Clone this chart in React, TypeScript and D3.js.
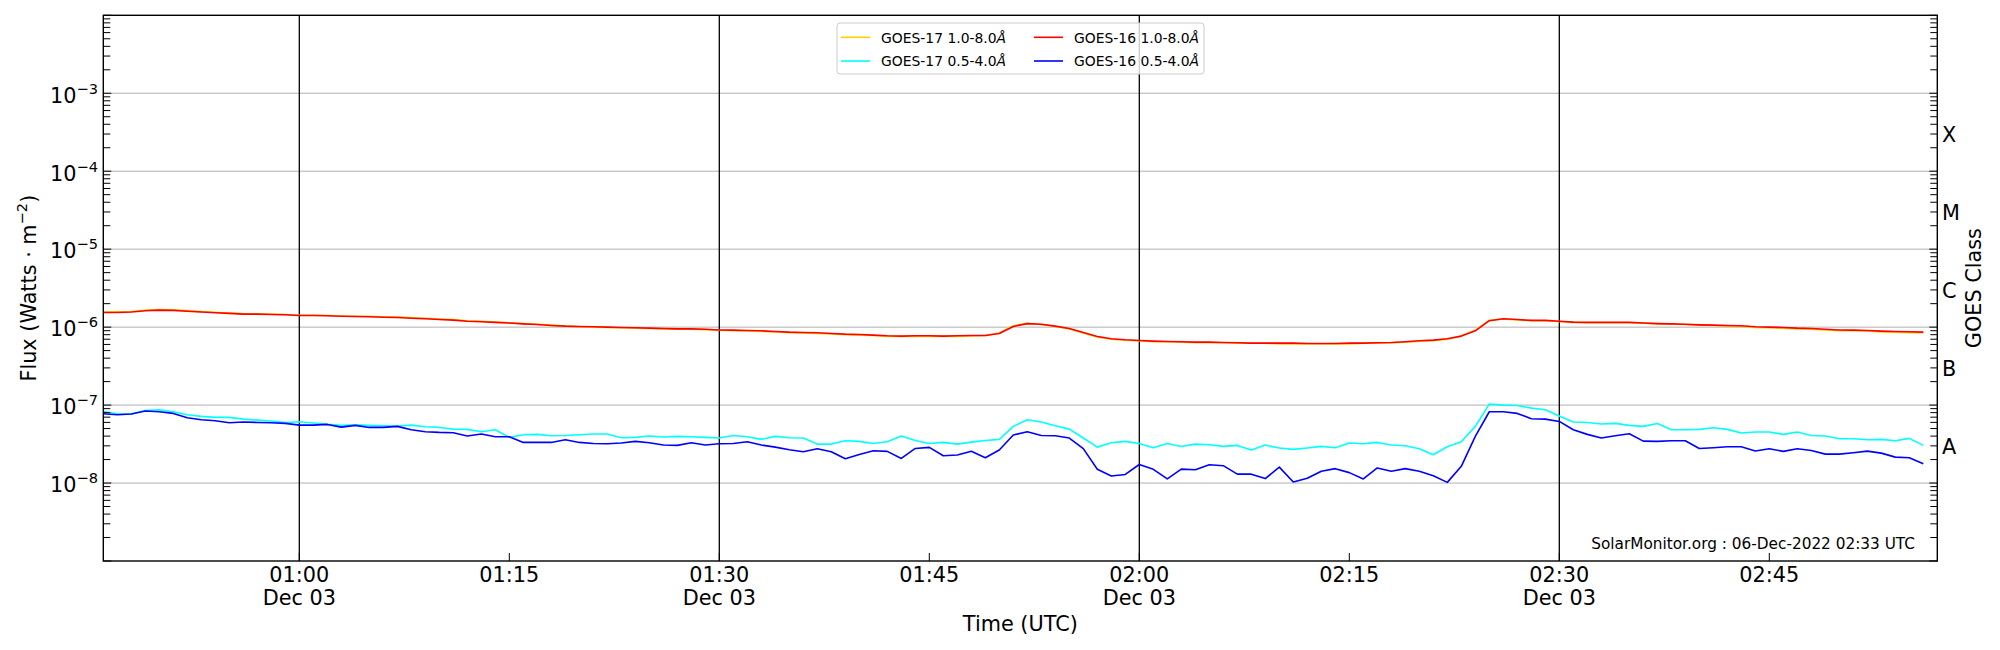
import React from 'react';
import * as d3 from 'd3';

// GOES X-ray flux, 1-minute cadence starting 00:46 UTC on 03 Dec 2022
const startTime = new Date(Date.UTC(2022, 11, 3, 0, 46));
const endTime = new Date(Date.UTC(2022, 11, 3, 2, 57));

// GOES-17 1.0-8.0 Å  (x 1e-6 W m^-2)
const g17LongE6 = [
  1.56, 1.57, 1.59, 1.65, 1.68, 1.67, 1.63, 1.58, 1.55, 1.52, 1.49, 1.48, 1.47, 1.45,
  1.42, 1.42, 1.41, 1.39, 1.38, 1.38, 1.36, 1.35, 1.33, 1.30, 1.27, 1.25, 1.21, 1.19, 1.16, 1.14, 1.11, 1.09, 1.06,
  1.03, 1.01, 1.00, 0.99, 0.98, 0.97, 0.96, 0.95, 0.94, 0.94, 0.93, 0.91, 0.90, 0.89, 0.88, 0.87,
  0.85, 0.84, 0.83, 0.82, 0.80, 0.79, 0.78, 0.76, 0.76, 0.76, 0.76, 0.76, 0.76, 0.77, 0.78, 0.84,
  1.04, 1.12, 1.08, 1.02, 0.95, 0.84, 0.75, 0.70, 0.68, 0.67, 0.65, 0.65, 0.64, 0.63, 0.63, 0.63,
  0.62, 0.62, 0.62, 0.61, 0.61, 0.61, 0.61, 0.61, 0.61, 0.62, 0.62, 0.63, 0.64, 0.66, 0.67, 0.70, 0.77,
  0.91, 1.22, 1.27, 1.24, 1.21, 1.21, 1.18, 1.15, 1.14, 1.14, 1.14, 1.14, 1.12, 1.10, 1.09, 1.08,
  1.06, 1.05, 1.03, 1.02, 0.99, 0.98, 0.97, 0.95, 0.94, 0.92, 0.90, 0.90, 0.89, 0.87, 0.86, 0.85, 0.85,
];

// GOES-17 0.5-4.0 Å  (x 1e-8 W m^-2)
const g17ShortE8 = [
  8.29, 7.74, 7.67, 8.54, 8.71, 8.21, 7.52, 7.16, 6.95, 6.95, 6.61, 6.42, 6.24, 5.99,
  6.11, 5.88, 5.65, 5.49, 5.60, 5.49, 5.43, 5.38, 5.54, 5.28, 5.17, 4.92, 4.88, 4.55, 4.83, 3.85, 4.17, 4.21, 4.05,
  4.08, 4.17, 4.25, 4.25, 3.81, 3.85, 4.01, 3.89, 3.97, 3.93, 3.85, 3.78, 4.08, 3.93, 3.63, 3.97,
  3.81, 3.78, 3.16, 3.16, 3.49, 3.42, 3.22, 3.39, 4.01, 3.52, 3.22, 3.32, 3.16, 3.35, 3.52, 3.63,
  5.33, 6.49, 6.06, 5.43, 4.92, 3.78, 2.89, 3.29, 3.42, 3.22, 2.84, 3.22, 2.95, 3.16, 3.10, 2.95,
  3.04, 2.65, 3.07, 2.81, 2.70, 2.81, 2.95, 2.84, 3.26, 3.19, 3.32, 3.07, 3.01, 2.76, 2.31, 2.92, 3.39,
  5.33, 10.3, 10.0, 9.90, 9.15, 8.71, 7.23, 6.06, 5.99, 5.71, 5.82, 5.49, 5.33, 5.82, 4.83, 4.83,
  4.88, 5.12, 4.88, 4.38, 4.51, 4.51, 4.21, 4.51, 4.08, 4.01, 3.70, 3.70, 3.59, 3.63, 3.49, 3.74, 3.04,
];

// GOES-16 1.0-8.0 Å  (x 1e-6 W m^-2)
const g16LongE6 = [
  1.54, 1.54, 1.56, 1.62, 1.65, 1.64, 1.60, 1.56, 1.53, 1.50, 1.47, 1.47, 1.45, 1.44,
  1.41, 1.41, 1.40, 1.38, 1.37, 1.36, 1.34, 1.33, 1.30, 1.28, 1.25, 1.23, 1.19, 1.17, 1.15, 1.13, 1.10, 1.08, 1.05,
  1.03, 1.02, 1.01, 1.00, 0.99, 0.98, 0.97, 0.96, 0.95, 0.95, 0.94, 0.92, 0.915, 0.906, 0.897, 0.880,
  0.863, 0.855, 0.846, 0.829, 0.813, 0.805, 0.790, 0.774, 0.767, 0.774, 0.774, 0.767, 0.774, 0.782, 0.782, 0.829,
  1.02, 1.11, 1.09, 1.03, 0.96, 0.855, 0.759, 0.709, 0.688, 0.675, 0.662, 0.655, 0.649, 0.642, 0.642, 0.636,
  0.630, 0.624, 0.624, 0.624, 0.624, 0.617, 0.617, 0.617, 0.624, 0.624, 0.630, 0.636, 0.649, 0.668, 0.681, 0.709, 0.767,
  0.897, 1.21, 1.28, 1.25, 1.22, 1.22, 1.19, 1.16, 1.15, 1.15, 1.15, 1.15, 1.13, 1.11, 1.10, 1.09,
  1.07, 1.06, 1.05, 1.04, 1.01, 1.00, 0.99, 0.97, 0.96, 0.94, 0.92, 0.915, 0.906, 0.889, 0.880, 0.871, 0.863,
];

// GOES-16 0.5-4.0 Å  (x 1e-8 W m^-2)
const g16ShortE8 = [
  7.74, 7.52, 7.67, 8.38, 8.21, 7.82, 6.88, 6.49, 6.30, 5.94, 6.06, 5.99, 5.94, 5.82,
  5.54, 5.54, 5.65, 5.22, 5.49, 5.17, 5.17, 5.33, 4.83, 4.55, 4.46, 4.42, 4.01, 4.25, 3.93, 3.93, 3.32, 3.32, 3.32,
  3.59, 3.32, 3.22, 3.19, 3.26, 3.42, 3.29, 3.07, 3.04, 3.29, 3.07, 3.19, 3.22, 3.39, 3.07, 2.89,
  2.68, 2.52, 2.76, 2.52, 2.05, 2.33, 2.60, 2.55, 2.07, 2.78, 2.87, 2.24, 2.29, 2.55, 2.11, 2.65,
  4.13, 4.55, 4.08, 4.05, 3.78, 2.76, 1.50, 1.23, 1.29, 1.73, 1.50, 1.13, 1.51, 1.48, 1.72, 1.67,
  1.30, 1.30, 1.14, 1.60, 1.03, 1.15, 1.42, 1.53, 1.36, 1.13, 1.56, 1.42, 1.53, 1.42, 1.24, 1.02, 1.64,
  3.97, 8.21, 8.21, 7.82, 6.68, 6.61, 6.17, 4.83, 4.21, 3.78, 4.05, 4.29, 3.45, 3.42, 3.49, 3.49,
  2.78, 2.84, 2.92, 2.92, 2.57, 2.76, 2.55, 2.76, 2.62, 2.35, 2.35, 2.45, 2.57, 2.42, 2.15, 2.11, 1.77,
];

const goesClasses = ['A', 'B', 'C', 'M', 'X'];
const classExponents = [-7.5, -6.5, -5.5, -4.5, -3.5];
const labelledDecades = [-8, -7, -6, -5, -4, -3];

const series = [
  { label: 'GOES-17 1.0-8.0', values: g17LongE6, unit: 1e-6, color: '#ffd000' },
  { label: 'GOES-17 0.5-4.0', values: g17ShortE8, unit: 1e-8, color: '#00ffff' },
  { label: 'GOES-16 1.0-8.0', values: g16LongE6, unit: 1e-6, color: '#ff0000' },
  { label: 'GOES-16 0.5-4.0', values: g16ShortE8, unit: 1e-8, color: '#0000ff' },
];

const stamp = 'SolarMonitor.org : 06-Dec-2022 02:33 UTC';

const W = 2000;
const H = 650;
const P = { left: 103.3, right: 1937.3, top: 15.3, bottom: 561 };
const FONT = "'DejaVu Sans', sans-serif";
const FS = 20.8;

export default function App() {
  const x = d3.scaleUtc().domain([startTime, endTime]).range([P.left, P.right]);
  const y = d3.scaleLog().domain([1e-9, 1e-2]).range([P.bottom, P.top]);

  const timeAt = (i: number) => new Date(startTime.getTime() + i * 60000);
  const line = d3.line<number>().x((_, i) => x(timeAt(i))).y((d) => y(d));

  const xTicks = x.ticks(d3.utcMinute.every(15)!);
  const isHalfHour = (d: Date) => d.getUTCMinutes() % 30 === 0;
  const fmtTime = d3.utcFormat('%H:%M');
  const fmtDay = d3.utcFormat('%b %d');

  const yTicks = y.ticks();
  const isMajor = (v: number) => Math.abs(Math.log10(v) - Math.round(Math.log10(v))) < 1e-6;

  const legendX = 837, legendY = 23;
  const rowY = [37.3, 61];
  const colX = [841, 1034];

  return (
    <div style={{ position: 'absolute', left: 0, top: 0 }}>
      <svg width={W} height={H} style={{ display: 'block', background: '#fff' }} fontFamily={FONT}>
        {/* horizontal decade grid */}
        {labelledDecades.map((e) => (
          <line key={e} x1={P.left} x2={P.right} y1={y(10 ** e)} y2={y(10 ** e)} stroke="#b0b0b0" strokeWidth={1} />
        ))}
        {/* half-hour markers */}
        {xTicks.filter(isHalfHour).map((d) => (
          <line key={+d} x1={x(d)} x2={x(d)} y1={P.top} y2={P.bottom} stroke="#000" strokeWidth={1.3} />
        ))}

        {/* data */}
        <g clipPath="url(#plotClip)">
          {series.map((s) => (
            <path key={s.label} d={line(s.values.map((v) => v * s.unit)) || ''} fill="none" stroke={s.color} strokeWidth={1.6} strokeLinejoin="round" />
          ))}
        </g>
        <defs>
          <clipPath id="plotClip">
            <rect x={P.left} y={P.top} width={P.right - P.left} height={P.bottom - P.top} />
          </clipPath>
        </defs>

        {/* y ticks, both sides, inward */}
        {yTicks.map((v) => {
          const len = isMajor(v) ? 8 : 7;
          const yy = y(v);
          return (
            <g key={v}>
              <line x1={P.left} x2={P.left + len} y1={yy} y2={yy} stroke="#000" strokeWidth={1} />
              <line x1={P.right} x2={P.right - len} y1={yy} y2={yy} stroke="#000" strokeWidth={1} />
            </g>
          );
        })}
        {/* x ticks */}
        {xTicks.map((d) => (
          <line key={+d} x1={x(d)} x2={x(d)} y1={P.bottom} y2={P.bottom - 8} stroke="#000" strokeWidth={1} />
        ))}

        {/* frame */}
        <rect x={P.left} y={P.top} width={P.right - P.left} height={P.bottom - P.top} fill="none" stroke="#000" strokeWidth={1.4} />

        {/* y tick labels */}
        {labelledDecades.map((e) => (
          <text key={e} x={98} y={y(10 ** e) + 9.3} textAnchor="end" fontSize={FS} fill="#000">
            <tspan>10</tspan>
            <tspan dy={-9} fontSize={14.6}>{`\u2212${-e}`}</tspan>
          </text>
        ))}

        {/* x tick labels */}
        {xTicks.map((d) => (
          <g key={+d}>
            <text x={x(d)} y={582} textAnchor="middle" fontSize={FS} fill="#000">{fmtTime(d)}</text>
            {isHalfHour(d) && (
              <text x={x(d)} y={605} textAnchor="middle" fontSize={FS} fill="#000">{fmtDay(d)}</text>
            )}
          </g>
        ))}

        {/* GOES class labels */}
        {goesClasses.map((c, i) => (
          <text key={c} x={1942} y={y(10 ** classExponents[i]) + 9.5} fontSize={FS} fill="#000">{c}</text>
        ))}

        {/* axis titles */}
        <text x={(P.left + P.right) / 2} y={631} textAnchor="middle" fontSize={FS} fill="#000">Time (UTC)</text>
        <text transform={`translate(35.5,${(P.top + P.bottom) / 2}) rotate(-90)`} textAnchor="middle" fontSize={FS} fill="#000">
          <tspan>Flux (Watts · m</tspan>
          <tspan dy={-9} fontSize={14.6}>{'\u22122'}</tspan>
          <tspan dy={9}>)</tspan>
        </text>
        <text transform={`translate(1980.5,${(P.top + P.bottom) / 2}) rotate(-90)`} textAnchor="middle" fontSize={FS} fill="#000">GOES Class</text>

        {/* legend */}
        <rect x={legendX} y={legendY} width={367} height={51} rx={3} fill="#fff" fillOpacity={0.8} stroke="#cccccc" strokeWidth={1} />
        {series.map((s, i) => {
          const cx = colX[Math.floor(i / 2)];
          const cy = rowY[i % 2];
          return (
            <g key={s.label}>
              <line x1={cx} x2={cx + 29} y1={cy} y2={cy} stroke={s.color} strokeWidth={1.6} />
              <text x={cx + 40} y={cy + 5.3} fontSize={13.9} fill="#000">
                {s.label}
                <tspan fontStyle="italic">Å</tspan>
              </text>
            </g>
          );
        })}

        {/* stamp */}
        <text x={1915} y={549.3} textAnchor="end" fontSize={15.3} fill="#000">{stamp}</text>
      </svg>
    </div>
  );
}
